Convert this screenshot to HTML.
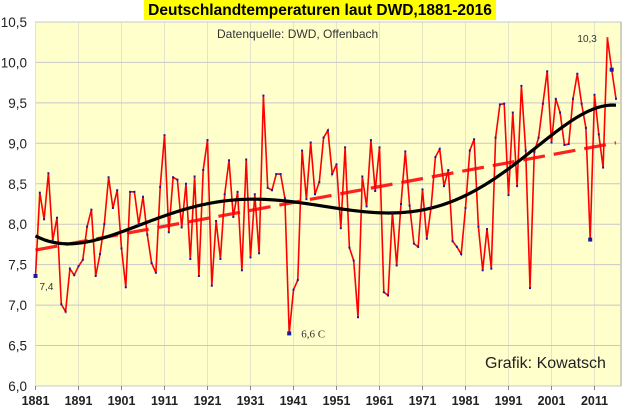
<!DOCTYPE html>
<html><head><meta charset="utf-8"><style>
html,body{margin:0;padding:0;background:#fff;}
body{width:640px;height:413px;overflow:hidden;font-family:"Liberation Sans",sans-serif;}
</style></head><body>
<svg id="chart" width="640" height="413" xmlns="http://www.w3.org/2000/svg">
<rect x="144" y="0" width="352" height="20" fill="#ffff00"/>
<text x="320" y="15" text-anchor="middle" font-family="Liberation Sans, sans-serif" font-weight="bold" font-size="15.5" fill="#000">Deutschlandtemperaturen laut DWD,1881-2016</text>
<rect x="35.5" y="22" width="585.5" height="364" fill="#ffffcc" stroke="#a0a0a0" stroke-width="1"/>
<g id="grid"></g>
<g id="axes"></g>
<g id="series"></g>
<text x="217" y="38" font-size="12" fill="#333">Datenquelle: DWD, Offenbach</text>
<text x="485" y="368" font-size="16" fill="#222" transform="scale(1,1)">Grafik: Kowatsch</text>
</svg>
<script>
const startYear = 1881;
const temps = [7.36,8.39,8.06,8.63,7.80,8.08,7.01,6.92,7.45,7.37,
7.48,7.56,7.97,8.18,7.36,7.63,8.00,8.58,8.20,8.42,
7.70,7.22,8.40,8.40,8.00,8.34,7.87,7.52,7.40,8.46,
9.10,7.90,8.58,8.55,7.96,8.50,7.57,8.59,7.36,8.67,
9.04,7.24,8.04,7.57,8.37,8.79,8.09,8.40,7.43,8.80,
7.59,8.37,7.64,9.59,8.45,8.42,8.62,8.62,8.32,6.65,
7.19,7.31,8.91,8.31,9.01,8.37,8.52,9.07,9.16,8.62,
8.74,7.95,8.95,7.71,7.55,6.85,8.59,8.22,9.04,8.41,
8.95,7.16,7.12,8.15,7.49,8.25,8.90,8.23,7.76,7.72,
8.43,7.82,8.21,8.83,8.93,8.47,8.67,7.79,7.72,7.63,
8.20,8.91,9.05,7.97,7.43,7.94,7.45,9.07,9.48,9.49,
8.36,9.38,8.47,9.71,8.91,7.21,8.89,9.07,9.49,9.89,
9.01,9.55,9.38,8.98,8.99,9.55,9.86,9.49,9.19,7.81,
9.60,9.11,8.70,10.30,9.91,9.55];
const yTicks = [6.0,6.5,7.0,7.5,8.0,8.5,9.0,9.5,10.0,10.5];
const xTickYears = [1881,1891,1901,1911,1921,1931,1941,1951,1961,1971,1981,1991,2001,2011];
const labelNotes = [{year:1881,text:"7,4",dx:4,dy:14,serif:false},{year:1940,text:"6,6 C",dx:12,dy:4,serif:true},{year:2014,text:"10,3",dx:-30,dy:4,serif:false}];

const NS="http://www.w3.org/2000/svg";
const X0=35.5, PX=4.3, Y0=386, PY=80.9;
function xs(yr){return X0+(yr-startYear)*PX;}
function ys(v){return Y0-(v-6)*PY;}
function mk(tag,attrs,parent){const e=document.createElementNS(NS,tag);for(const k in attrs)e.setAttribute(k,attrs[k]);parent.appendChild(e);return e;}
const grid=document.getElementById('grid'),axes=document.getElementById('axes'),series=document.getElementById('series');

xTickYears.forEach(yr=>{
  const l=mk('line',{x1:xs(yr),x2:xs(yr),y1:22,y2:386,stroke:'#e4e4c8','stroke-width':1},grid);
  
  
  const t=mk('text',{x:xs(yr),y:405,'text-anchor':'middle','font-size':12.5,'font-weight':'bold',fill:'#222'},axes);
  t.textContent=yr;
  
  
  const tk=mk('line',{x1:xs(yr),x2:xs(yr),y1:386,y2:390,stroke:'#888'},axes);
  
  
});
yTicks.forEach(v=>{
  const l=mk('line',{x1:35.5,x2:621,y1:ys(v),y2:ys(v),stroke:'#c8c8c8','stroke-width':1},grid);
  
  
  const t=mk('text',{x:27,y:ys(v)+5,'text-anchor':'end','font-size':13.5,fill:'#222'},axes);
  t.textContent=v.toFixed(1).replace('.',',');
  
  
});

// regressions
const n=temps.length, yrs=temps.map((_,i)=>startYear+i);
const mx=yrs.reduce((a,b)=>a+b)/n, my=temps.reduce((a,b)=>a+b)/n;
let sxy=0,sxx=0;for(let i=0;i<n;i++){sxy+=(yrs[i]-mx)*(temps[i]-my);sxx+=(yrs[i]-mx)**2;}
const slope=sxy/sxx, icpt=my-slope*mx;
// polynomial degree 6
const D=6, half=(n-1)/2;
const A=[];for(let r=0;r<=D;r++){A.push(new Array(D+2).fill(0));}
for(let i=0;i<n;i++){const t=(i-half)/half;const p=[];for(let k=0;k<=2*D;k++)p.push(t**k);
  for(let r=0;r<=D;r++){for(let c=0;c<=D;c++)A[r][c]+=p[r+c];A[r][D+1]+=p[r]*temps[i];}}
for(let c=0;c<=D;c++){let piv=c;for(let r=c+1;r<=D;r++)if(Math.abs(A[r][c])>Math.abs(A[piv][c]))piv=r;[A[c],A[piv]]=[A[piv],A[c]];
  for(let r=0;r<=D;r++){if(r===c)continue;const f=A[r][c]/A[c][c];for(let k=c;k<=D+1;k++)A[r][k]-=f*A[c][k];}}
const coef=A.map((row,i)=>row[D+1]/row[i]);
function poly(i){const t=(i-half)/half;let s=0;for(let k=0;k<=D;k++)s+=coef[k]*t**k;return s;}

const tl=mk('line',{x1:xs(startYear),y1:ys(icpt+slope*startYear),x2:xs(startYear+n-1),y2:ys(icpt+slope*(startYear+n-1)),stroke:'#ff2020','stroke-width':3.2,'stroke-dasharray':'22,9'},series);



let pd='';for(let i=0;i<n;i++){pd+=(i?'L':'M')+xs(yrs[i]).toFixed(2)+','+ys(temps[i]).toFixed(2);}
const dl=mk('path',{d:pd,fill:'none',stroke:'#ff0000','stroke-width':1.6},series);



let pc='';for(let s=0;s<=(n-1)*4;s++){const i=s/4;pc+=(s?'L':'M')+xs(startYear+i).toFixed(2)+','+ys(poly(i)).toFixed(2);}
const pl=mk('path',{d:pc,fill:'none',stroke:'#000','stroke-width':3.2},series);



for(let i=0;i<n;i++){
  const big=(yrs[i]===1881||yrs[i]===1940||yrs[i]===2010||yrs[i]===2015);
  const c=mk('rect',{x:xs(yrs[i])-(big?2:1),y:ys(temps[i])-(big?2:1),width:big?4:2,height:big?4:2,fill:yrs[i]===2014?'#e03030':'#1a1aa0'},series);
  
  
}
labelNotes.forEach(nt=>{
  const v=temps[nt.year-startYear];
  const t=mk('text',{x:xs(nt.year)+nt.dx,y:ys(v)+nt.dy,'font-size':nt.serif?11:10,'font-family':nt.serif?'Liberation Serif, serif':'Liberation Sans, sans-serif',fill:'#333'},series);
  t.textContent=nt.text;
  
  
});
</script>
</body></html>
